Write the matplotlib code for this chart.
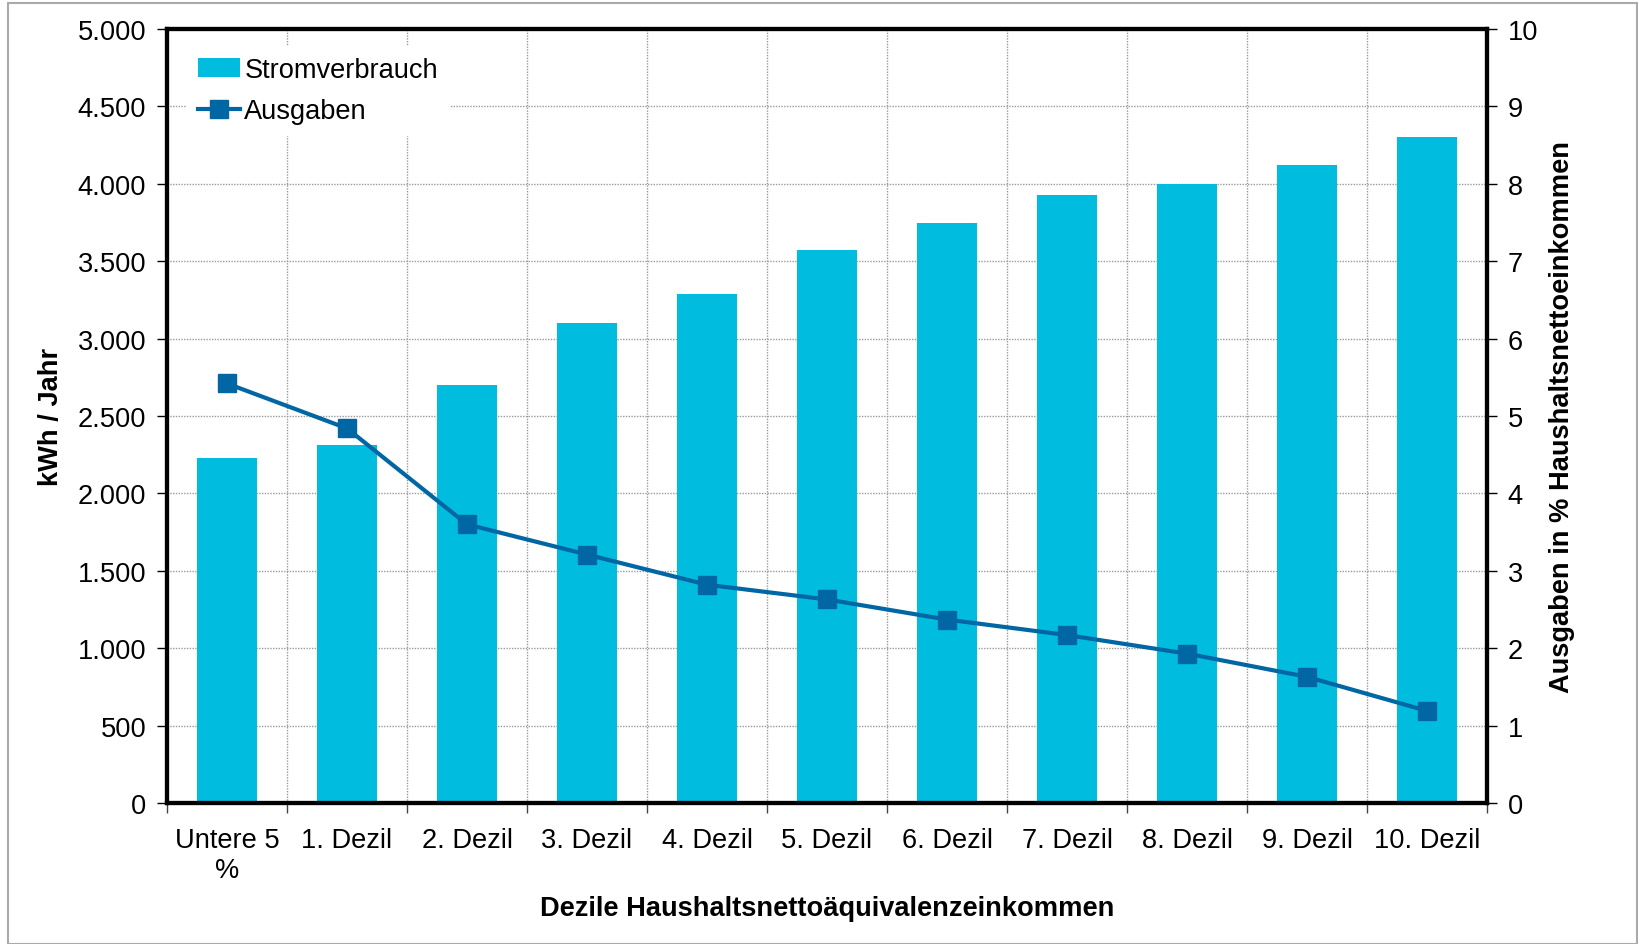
import matplotlib
matplotlib.use("Agg")
import matplotlib.pyplot as plt
from matplotlib.patches import Rectangle
import numpy as np

plt.rcParams['font.family'] = ['Liberation Sans', 'DejaVu Sans']

categories = ["Untere 5\n%", "1. Dezil", "2. Dezil", "3. Dezil", "4. Dezil", "5. Dezil",
              "6. Dezil", "7. Dezil", "8. Dezil", "9. Dezil", "10. Dezil"]
stromverbrauch = [2230, 2310, 2700, 3100, 3290, 3570, 3750, 3930, 4000, 4120, 4300]
ausgaben = [5.42, 4.84, 3.60, 3.21, 2.82, 2.63, 2.37, 2.17, 1.93, 1.63, 1.19]
left_ticks = [0, 500, 1000, 1500, 2000, 2500, 3000, 3500, 4000, 4500, 5000]
left_ticklabels = ["0", "500", "1.000", "1.500", "2.000", "2.500", "3.000", "3.500",
                   "4.000", "4.500", "5.000"]
right_ticks = list(range(0, 11))

bar_color = "#00BDE0"
line_color = "#0066A4"
fs = 19.6

fig = plt.figure(figsize=(16.38, 9.45), dpi=100)
W, H = 1638, 945
ax = fig.add_axes([167 / W, 1 - 804 / H, (1487 - 167) / W, (804 - 30) / H])
ax2 = ax.twinx()

x = np.arange(len(categories))
bars = ax.bar(x, stromverbrauch, width=0.5, color=bar_color, zorder=2, label="Stromverbrauch")
ax.set_xlim(-0.5, len(categories) - 0.5)
ax.set_ylim(0, 5000)
ax.set_yticks(left_ticks)
ax.set_yticklabels(left_ticklabels, fontsize=fs)

ax.set_xticks(np.arange(len(categories) + 1) - 0.5)
ax.set_xticklabels([""] * (len(categories) + 1))
ax.set_xticks(x, minor=True)
ax.set_xticklabels(categories, minor=True, fontsize=fs, linespacing=1.2)
ax.tick_params(axis='x', which='minor', length=0, pad=17)
ax.tick_params(axis='x', which='major', length=7, width=1, direction='out', color='#444444')
ax.tick_params(axis='y', length=7, width=1, direction='out', pad=8)

ax.grid(True, which='major', axis='both', color='#9a9a9a', linestyle=(0, (1, 1)), linewidth=1, zorder=0)
ax.set_axisbelow(True)

line, = ax2.plot(x, ausgaben, color=line_color, linewidth=3, marker='s', markersize=13,
                 zorder=3, label="Ausgaben")
ax2.set_ylim(0, 10)
ax2.set_yticks(right_ticks)
ax2.set_yticklabels([str(t) for t in right_ticks], fontsize=fs)
ax2.tick_params(axis='y', length=7, width=1, direction='out', pad=8)

for a in (ax, ax2):
    for s in a.spines.values():
        s.set_linewidth(3)
        s.set_color('black')

ax.set_ylabel("kWh / Jahr", fontsize=fs, fontweight='bold', labelpad=10)
ax2.set_ylabel("Ausgaben in % Haushaltsnettoeinkommen", fontsize=fs, fontweight='bold', labelpad=8)
ax.set_xlabel("Dezile Haushaltsnettoäquivalenzeinkommen", fontsize=fs, fontweight='bold', labelpad=9)

leg = ax2.legend([bars, line], ["Stromverbrauch", "Ausgaben"], loc='upper left',
                 bbox_to_anchor=(0.005, 0.995), fontsize=fs, frameon=True, fancybox=False,
                 framealpha=1, edgecolor='white', handlelength=1.55, handletextpad=0.15,
                 borderpad=0.4, labelspacing=0.55)
leg.set_zorder(10)

fig.patches.append(Rectangle((8 / W, 0), 1 - 9 / W, 1 - 4 / H, transform=fig.transFigure,
                             fill=False, edgecolor='#aaaaaa', linewidth=1.5))

fig.savefig("out.png", dpi=100)
